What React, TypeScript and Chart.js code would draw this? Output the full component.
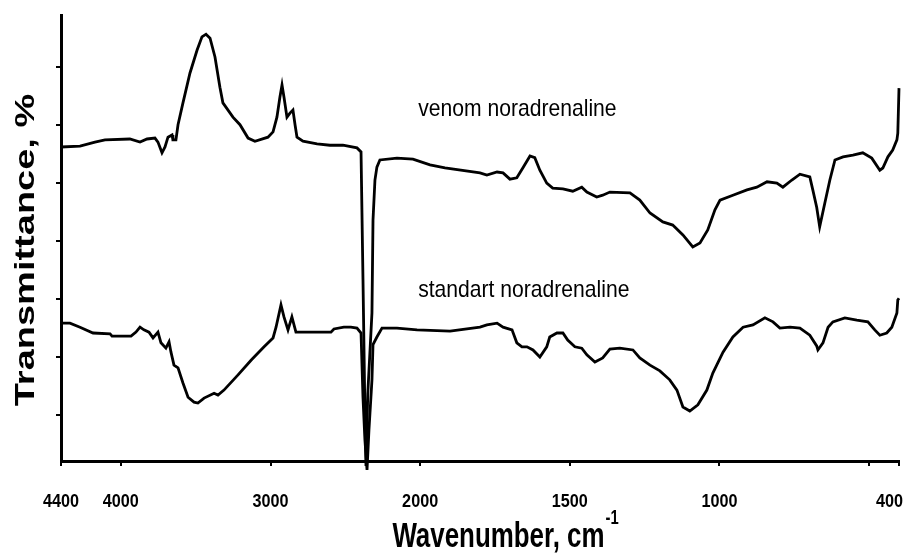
import { useEffect, useRef } from 'react';
import { Chart, registerables } from 'chart.js';

Chart.register(...registerables);

// Wavenumber (cm-1) and transmittance (arbitrary %, offset traces)
const VENOM_WN = [4400, 4273, 4173, 4106, 3940, 3872, 3825, 3772, 3752, 3725, 3705, 3685, 3658, 3652, 3632, 3618, 3585, 3538, 3491, 3458, 3431, 3404, 3371, 3338, 3318, 3251, 3204, 3150, 3104, 3017, 2983, 2957, 2937, 2923, 2910, 2890, 2870, 2850, 2836, 2823, 2783, 2689, 2603, 2516, 2422, 2395, 2389, 2382, 2369, 2362, 2350, 2322, 2315, 2302, 2289, 2269, 2155, 2048, 1967, 1917, 1800, 1777, 1743, 1723, 1700, 1677, 1657, 1633, 1617, 1600, 1577, 1557, 1523, 1490, 1460, 1443, 1410, 1390, 1366, 1299, 1266, 1232, 1189, 1156, 1122, 1089, 1065, 1039, 1015, 998, 955, 908, 875, 841, 808, 788, 758, 731, 698, 688, 675, 665, 648, 631, 614, 587, 554, 521, 491, 464, 454, 437, 421, 407, 404, 400];
const VENOM_T = [70.4, 70.6, 71.5, 72.0, 72.2, 71.5, 72.2, 72.4, 71.5, 69.1, 70.4, 72.6, 73.1, 72.0, 72.0, 75.4, 80.3, 87.0, 92.1, 95.1, 95.7, 94.8, 90.6, 83.8, 80.3, 77.1, 75.4, 72.4, 71.7, 72.6, 73.8, 77.1, 81.6, 84.3, 81.6, 77.1, 78.0, 78.7, 75.4, 72.6, 71.7, 71.1, 70.8, 70.8, 70.2, 69.3, 69.3, 40.8, 10.8, -1.1, 15.0, 33.2, 54.0, 63.0, 65.9, 67.5, 67.9, 67.7, 66.4, 65.7, 64.6, 64.1, 64.8, 64.6, 63.2, 63.5, 65.7, 68.4, 68.0, 65.2, 62.3, 61.2, 61.0, 60.5, 61.4, 60.3, 59.2, 59.6, 60.3, 60.1, 58.5, 55.6, 53.6, 52.9, 50.7, 48.0, 48.9, 51.8, 56.3, 58.5, 59.6, 60.8, 61.4, 62.6, 62.3, 61.4, 63.0, 64.3, 63.7, 60.8, 56.9, 52.5, 57.8, 63.0, 67.5, 68.2, 68.6, 69.1, 67.9, 65.2, 65.7, 68.2, 69.7, 72.0, 73.5, 83.6];

const STANDARD_WN = [4400, 4340, 4273, 4186, 4072, 4059, 3932, 3899, 3872, 3846, 3812, 3785, 3752, 3732, 3699, 3678, 3665, 3645, 3618, 3585, 3551, 3511, 3485, 3444, 3377, 3351, 3311, 3217, 3130, 3043, 2983, 2963, 2930, 2910, 2883, 2857, 2830, 2683, 2596, 2576, 2510, 2463, 2422, 2395, 2382, 2369, 2355, 2342, 2322, 2315, 2289, 2255, 2155, 2021, 1900, 1800, 1777, 1743, 1723, 1693, 1677, 1660, 1643, 1623, 1600, 1577, 1567, 1543, 1523, 1507, 1483, 1460, 1443, 1416, 1390, 1366, 1333, 1289, 1266, 1232, 1199, 1166, 1142, 1122, 1099, 1072, 1042, 1022, 988, 955, 921, 888, 848, 821, 798, 764, 731, 698, 675, 671, 654, 637, 621, 581, 541, 504, 481, 464, 441, 424, 407, 404, 400];
const STANDARD_T = [30.9, 30.9, 30.0, 28.7, 28.5, 28.0, 28.0, 28.9, 30.0, 29.4, 28.9, 27.6, 28.9, 26.5, 25.3, 26.7, 24.4, 21.5, 20.9, 17.5, 14.3, 13.2, 13.0, 14.1, 15.2, 14.8, 15.9, 19.3, 22.6, 25.6, 27.6, 30.0, 35.0, 32.3, 29.4, 32.3, 28.9, 28.9, 28.9, 29.6, 30.0, 30.0, 29.8, 28.7, 14.3, 4.7, -2.0, 7.0, 18.2, 26.1, 27.8, 29.8, 29.8, 29.4, 29.1, 30.0, 30.5, 30.9, 30.0, 29.4, 26.5, 25.6, 25.6, 24.9, 23.3, 25.6, 27.8, 28.7, 28.7, 27.1, 25.6, 25.3, 23.8, 22.2, 23.1, 25.1, 25.3, 24.9, 23.1, 21.5, 20.2, 18.2, 15.9, 12.1, 11.2, 12.6, 15.9, 19.7, 24.4, 27.8, 30.0, 30.5, 32.1, 31.2, 29.8, 30.0, 29.8, 28.2, 25.8, 24.9, 26.5, 30.0, 31.2, 32.1, 31.6, 31.2, 29.4, 28.2, 28.7, 30.0, 33.2, 36.1, 36.5];

const X_TICKS = [4400, 4000, 3000, 2000, 1500, 1000, 500, 400];
const X_TICK_LABELS = ['4400', '4000', '3000', '2000', '1500', '1000', '', '400'];
const Y_TICKS = [10.3, 23.3, 36.3, 49.3, 62.3, 75.3, 88.3];

const X_TITLE = 'Wavenumber, cm';
const X_TITLE_SUP = '-1';
const Y_TITLE = 'Transmittance, %';
const LABEL_VENOM = 'venom noradrenaline';
const LABEL_STANDARD = 'standart noradrenaline';
const LABEL_VENOM_POS = [2000, 77.3];
const LABEL_STANDARD_POS = [2000, 36.8];

// IR scale: 2x expansion below 2000 cm-1
const toAxis = (w: number) => (w >= 2000 ? (4400 - w) * 0.5 : 1200 + (2000 - w));

const FONT = '"Liberation Sans", Arial, sans-serif';

function drawText(ctx: any, text: string, x: number, y: number, font: string, sx: number, align: string) {
  ctx.save();
  ctx.translate(x, y);
  ctx.scale(sx, 1);
  ctx.font = font;
  ctx.textAlign = align;
  ctx.fillText(text, 0, 0);
  ctx.restore();
}

const textPlugin = {
  id: 'irText',
  afterDraw(chart: any) {
    const ctx = chart.ctx;
    const xs = chart.scales.x;
    const ys = chart.scales.y;
    const { bottom, top } = chart.chartArea;
    ctx.save();
    ctx.fillStyle = '#000';
    ctx.textBaseline = 'alphabetic';
    // tick labels
    const tickFont = `bold 18px ${FONT}`;
    const tickSx = 0.9;
    X_TICKS.forEach((w, i) => {
      const lbl = X_TICK_LABELS[i];
      if (!lbl) return;
      ctx.font = tickFont;
      const tw = ctx.measureText(lbl).width * tickSx;
      let px = xs.getPixelForValue(toAxis(w));
      px = Math.min(px, chart.width - 6 - tw / 2);
      drawText(ctx, lbl, px, bottom + 46, tickFont, tickSx, 'center');
    });
    // x title
    const titleFont = `bold 35px ${FONT}`;
    const supFont = `bold 20px ${FONT}`;
    const tsx = 0.74;
    ctx.font = titleFont;
    const mainW = ctx.measureText(X_TITLE).width * tsx;
    ctx.font = supFont;
    const supW = ctx.measureText(X_TITLE_SUP).width * tsx;
    const cx = 505;
    const startX = cx - (mainW + supW) / 2;
    drawText(ctx, X_TITLE, startX, bottom + 86, titleFont, tsx, 'left');
    drawText(ctx, X_TITLE_SUP, startX + mainW + 1, bottom + 63, supFont, tsx, 'left');
    // y title (rotated, letters squeezed horizontally on screen)
    ctx.save();
    ctx.translate(34, 250);
    ctx.rotate(-Math.PI / 2);
    ctx.scale(1, 0.72);
    ctx.font = `bold 38px ${FONT}`;
    ctx.textAlign = 'center';
    ctx.fillText(Y_TITLE, 0, 0);
    ctx.restore();
    // series annotations
    const annFont = `24px ${FONT}`;
    drawText(ctx, LABEL_VENOM, xs.getPixelForValue(toAxis(LABEL_VENOM_POS[0])) - 2, ys.getPixelForValue(LABEL_VENOM_POS[1]), annFont, 0.88, 'left');
    drawText(ctx, LABEL_STANDARD, xs.getPixelForValue(toAxis(LABEL_STANDARD_POS[0])) - 2, ys.getPixelForValue(LABEL_STANDARD_POS[1]), annFont, 0.88, 'left');
    ctx.restore();
  },
};

export default function App() {
  const ref = useRef<HTMLCanvasElement>(null);
  useEffect(() => {
    if (!ref.current) return;
    const mk = (wn: number[], t: number[]) => wn.map((w, i) => ({ x: toAxis(w), y: t[i] }));
    const line = {
      borderColor: '#000',
      borderWidth: 2.8,
      pointRadius: 0,
      tension: 0,
      fill: false,
      clip: false as any,
    };
    const chart = new Chart(ref.current, {
      type: 'line',
      data: {
        datasets: [
          { label: LABEL_VENOM, data: mk(VENOM_WN, VENOM_T), ...line },
          { label: LABEL_STANDARD, data: mk(STANDARD_WN, STANDARD_T), ...line },
        ],
      },
      options: {
        animation: false,
        responsive: false,
        events: [],
        layout: { padding: { top: 15, right: 10, left: 0, bottom: 0 } },
        plugins: { legend: { display: false }, tooltip: { enabled: false } },
        scales: {
          x: {
            type: 'linear',
            min: 0,
            max: 2800,
            afterFit: (s: any) => { s.height = 92; },
            afterBuildTicks: (s: any) => { s.ticks = X_TICKS.map((w) => ({ value: toAxis(w) })); },
            ticks: { display: false },
            grid: { drawOnChartArea: false, drawTicks: true, tickLength: 5, color: '#000', lineWidth: 2 },
            border: { display: true, color: '#000', width: 3 },
          },
          y: {
            type: 'linear',
            min: 0,
            max: 100,
            afterFit: (s: any) => { s.width = 61; },
            afterBuildTicks: (s: any) => { s.ticks = Y_TICKS.map((v) => ({ value: v })); },
            ticks: { display: false },
            grid: { drawOnChartArea: false, drawTicks: true, tickLength: 5, color: '#000', lineWidth: 2 },
            border: { display: true, color: '#000', width: 3 },
          },
        },
      },
      plugins: [textPlugin],
    });
    return () => chart.destroy();
  }, []);
  return (
    <div style={{ position: 'fixed', left: 0, top: 0, width: 909, height: 553, background: '#fff' }}>
      <canvas ref={ref} width={909} height={553} />
    </div>
  );
}
